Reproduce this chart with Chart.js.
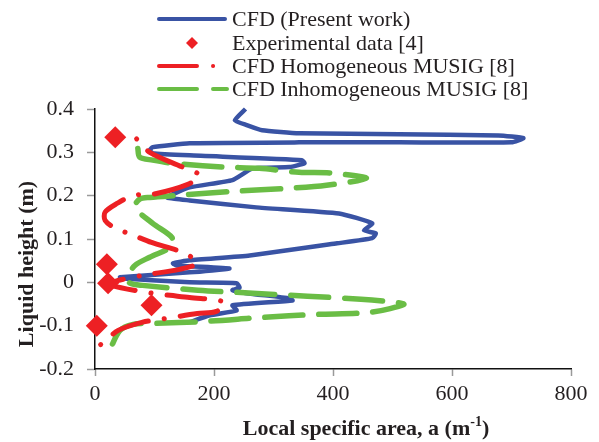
<!DOCTYPE html>
<html>
<head>
<meta charset="utf-8">
<script src="https://cdn.jsdelivr.net/npm/chart.js@4.4.1/dist/chart.umd.min.js"></script>
<style>
  html, body { margin: 0; padding: 0; background: #fff; }
  #wrap { width: 599px; height: 442px; }
</style>
</head>
<body>
<div id="wrap"><canvas id="grafico" width="599" height="442"></canvas></div>
<script>
// Dados (x = area especifica, y = altura do liquido)
const cfdArea = [253, 235, 255, 281, 343, 511, 678, 720, 700, 511, 343, 159, 97, 92, 97, 159, 348, 352, 327, 265, 231, 159, 121, 159, 271, 410, 466, 452, 472, 466, 407, 260, 159, 131, 137, 226, 159, 42, 47, 159, 238, 243, 231, 255, 327, 332, 231, 238, 193, 159];
const cfdHeight = [0.400, 0.374, 0.363, 0.351, 0.344, 0.342, 0.339, 0.333, 0.323, 0.323, 0.323, 0.321, 0.312, 0.305, 0.298, 0.293, 0.282, 0.275, 0.266, 0.263, 0.236, 0.219, 0.196, 0.189, 0.173, 0.159, 0.136, 0.120, 0.113, 0.102, 0.090, 0.062, 0.051, 0.044, 0.039, 0.032, 0.023, 0.012, 0.009, 0.000, -0.002, -0.012, -0.018, -0.025, -0.037, -0.042, -0.053, -0.065, -0.076, -0.092];

const expArea = [34, 20, 22, 95, 3];
const expHeight = [0.335, 0.042, -0.002, -0.053, -0.100];

const homArea = [70, 92, 147, 176, 156, 97, 65, 37, 17, 17, 34, 64, 95, 151, 172, 142, 80, 34, 28, 95, 126, 159, 218, 204, 172, 112, 80, 39, 0];
const homHeight = [0.331, 0.300, 0.266, 0.247, 0.226, 0.203, 0.201, 0.182, 0.162, 0.143, 0.125, 0.109, 0.092, 0.067, 0.044, 0.030, 0.016, 0.002, -0.007, -0.025, -0.030, -0.035, -0.046, -0.067, -0.072, -0.085, -0.092, -0.111, -0.155];

const inhomArea = [72, 75, 97, 129, 214, 276, 343, 399, 456, 389, 327, 231, 142, 92, 75, 67, 97, 129, 129, 92, 67, 55, 59, 80, 173, 265, 357, 447, 503, 519, 464, 372, 280, 188, 95, 64, 42, 25];
const inhomHeight = [0.309, 0.289, 0.282, 0.275, 0.266, 0.263, 0.254, 0.252, 0.240, 0.224, 0.217, 0.210, 0.201, 0.196, 0.192, 0.173, 0.136, 0.104, 0.083, 0.058, 0.039, 0.012, -0.002, -0.007, -0.018, -0.025, -0.032, -0.039, -0.046, -0.051, -0.069, -0.074, -0.081, -0.090, -0.095, -0.097, -0.111, -0.155];

const xTicks = [0, 200, 400, 600, 800];
const yTicks = [-0.2, -0.1, 0, 0.1, 0.2, 0.3, 0.4];
const yTickLabels = ['-0.2', '-0.1', '0', '0.1', '0.2', '0.3', '0.4'];

const serif = '"Liberation Serif", "Times New Roman", serif';

function toPoints(xs, ys) {
    return xs.map((x, i) => ({ x: x, y: ys[i] }));
}

// legenda e titulos dos eixos desenhados a mao
const extras = {
    id: 'extras',
    afterDraw(chart) {
        const ctx = chart.ctx;
        const ds = chart.data.datasets;
        const rows = [19, 43, 66, 89];
        ctx.save();
        ctx.font = '22px ' + serif;
        ctx.textBaseline = 'middle';
        ctx.textAlign = 'left';
        [0, 1, 2, 3].forEach(function (i, r) {
            const d = ds[i];
            const y = rows[r];
            if (d.showLine) {
                ctx.save();
                ctx.strokeStyle = d.borderColor;
                ctx.lineWidth = 4;
                ctx.lineCap = 'round';
                ctx.setLineDash(d.borderDash || []);
                ctx.beginPath();
                ctx.moveTo(159, y);
                ctx.lineTo(d.borderDash ? 227 : 225, y);
                ctx.stroke();
                ctx.restore();
            } else {
                ctx.fillStyle = d.backgroundColor;
                ctx.beginPath();
                ctx.moveTo(192, y - 6);
                ctx.lineTo(198, y);
                ctx.lineTo(192, y + 6);
                ctx.lineTo(186, y);
                ctx.closePath();
                ctx.fill();
            }
            ctx.fillStyle = '#231f20';
            ctx.fillText(d.label, 232, y + 1);
        });

        // titulo do eixo x com expoente
        ctx.fillStyle = '#231f20';
        const main = 'Local specific area, a (m';
        const bold = 'bold 22px ' + serif;
        const sup = 'bold 14px ' + serif;
        ctx.font = bold;
        const w1 = ctx.measureText(main).width;
        const w3 = ctx.measureText(')').width;
        ctx.font = sup;
        const w2 = ctx.measureText('-1').width;
        let x = 366 - (w1 + w2 + w3) / 2;
        const ty = 429;
        ctx.font = bold;
        ctx.fillText(main, x, ty);
        x += w1;
        ctx.font = sup;
        ctx.fillText('-1', x, ty - 7);
        x += w2;
        ctx.font = bold;
        ctx.fillText(')', x, ty);

        // titulo do eixo y
        ctx.translate(27, 264);
        ctx.rotate(-Math.PI / 2);
        ctx.textAlign = 'center';
        ctx.font = bold;
        ctx.fillText('Liquid height (m)', 0, 0);
        ctx.restore();
    }
};

const canvas = document.getElementById('grafico').getContext('2d');

new Chart(canvas, {
    type: 'scatter',
    data: {
        datasets: [
            {
                label: 'CFD (Present work)',
                data: toPoints(cfdArea, cfdHeight),
                showLine: true,
                borderColor: '#3953a4',
                borderWidth: 4.5,
                borderJoinStyle: 'round',
                pointRadius: 0,
                tension: 0.15,
                clip: false,
                order: 3
            },
            {
                label: 'Experimental data [4]',
                data: toPoints(expArea, expHeight),
                showLine: false,
                backgroundColor: '#ed2024',
                borderColor: '#ed2024',
                borderWidth: 0,
                pointStyle: 'rectRot',
                pointRadius: 11,
                clip: false,
                order: 0
            },
            {
                label: 'CFD Homogeneous MUSIG [8]',
                data: toPoints(homArea, homHeight),
                showLine: true,
                borderColor: '#ed2024',
                borderWidth: 5,
                borderDash: [38, 16, 0.1, 16],
                borderDashOffset: 54,
                borderCapStyle: 'round',
                pointRadius: 0,
                tension: 0.3,
                clip: false,
                order: 1
            },
            {
                label: 'CFD Inhomogeneous MUSIG [8]',
                data: toPoints(inhomArea, inhomHeight),
                showLine: true,
                borderColor: '#6abd45',
                borderWidth: 5.5,
                borderDash: [38, 16],
                borderCapStyle: 'round',
                pointRadius: 0,
                tension: 0.3,
                clip: false,
                order: 2
            }
        ]
    },
    plugins: [extras],
    options: {
        responsive: false,
        animation: false,
        layout: { padding: { left: 0, right: 28, top: 109, bottom: 0 } },
        plugins: {
            legend: { display: false },
            tooltip: { enabled: false }
        },
        scales: {
            x: {
                type: 'linear',
                min: 0,
                max: 800,
                afterFit: function (scale) { scale.height = 73; },
                afterBuildTicks: function (scale) {
                    scale.ticks = xTicks.map(v => ({ value: v }));
                },
                ticks: {
                    color: '#231f20',
                    font: { family: serif, size: 22 },
                    padding: 5,
                    maxRotation: 0,
                    callback: v => String(v)
                },
                grid: {
                    drawOnChartArea: false,
                    drawTicks: true,
                    tickLength: 7,
                    tickColor: '#9a9a9a',
                    tickWidth: 1.5
                },
                border: { color: '#111', width: 1.5 }
            },
            y: {
                type: 'linear',
                min: -0.2,
                max: 0.4,
                afterFit: function (scale) { scale.width = 95; },
                afterBuildTicks: function (scale) {
                    scale.ticks = yTicks.map(v => ({ value: v }));
                },
                ticks: {
                    color: '#231f20',
                    font: { family: serif, size: 22 },
                    padding: 13,
                    callback: function (v) {
                        const i = yTicks.findIndex(t => Math.abs(t - v) < 1e-9);
                        return i >= 0 ? yTickLabels[i] : '';
                    }
                },
                grid: {
                    drawOnChartArea: false,
                    drawTicks: true,
                    tickLength: 8,
                    tickColor: '#9a9a9a',
                    tickWidth: 1.5
                },
                border: { color: '#111', width: 1.5 }
            }
        }
    }
});
</script>
</body>
</html>
